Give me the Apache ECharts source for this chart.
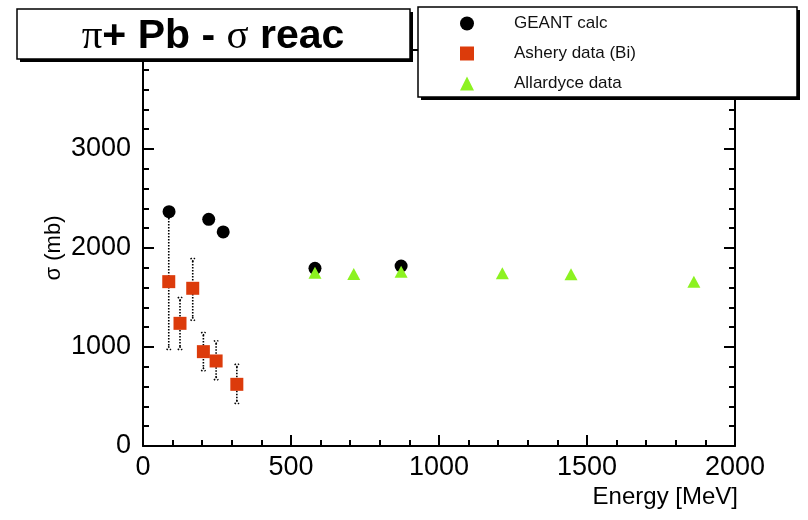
<!DOCTYPE html>
<html>
<head>
<meta charset="utf-8">
<script src="https://cdn.jsdelivr.net/npm/echarts@6/dist/echarts.min.js"></script>
<style>
  html, body { margin: 0; padding: 0; background: #fff; }
  #main { width: 808px; height: 520px; }
</style>
</head>
<body>
<div id="main"></div>
<script>
// GEANT calc
var geantE = [88, 222, 271, 581, 872];
var geantSigma = [2367, 2290, 2162, 1795, 1818];

// Ashery data (Bi) + error range
var asheryE = [87, 125, 168, 204, 247, 317];
var asherySigma = [1660, 1239, 1593, 953, 859, 623];
var asheryLow = [1000, 1000, 1296, 785, 694, 455];
var asheryHigh = [2303, 1475, 1869, 1121, 1037, 801];

// Allardyce data
var allardyceE = [581, 712, 872, 1214, 1446, 1861];
var allardyceSigma = [1750, 1737, 1760, 1744, 1734, 1660];

// axis ranges
var xRange = [0, 2000, 500];
var yRange = [0, 4000, 1000];

var FONT = 'Liberation Sans';
var chart = echarts.init(document.getElementById('main'));

function pairs(xs, ys) {
  return xs.map(function (x, i) { return [x, ys[i]]; });
}

function frameAxis(range, pos, labels) {
  return {
    type: 'value',
    position: pos,
    min: range[0],
    max: range[1],
    interval: range[2],
    axisLine: { show: true, onZero: false, lineStyle: { color: '#000', width: 2 } },
    axisTick: { show: true, inside: true, length: 11, lineStyle: { color: '#000', width: 2 } },
    minorTick: { show: true, splitNumber: 5, length: 6, lineStyle: { color: '#000', width: 2 } },
    splitLine: { show: false },
    axisLabel: {
      show: labels, color: '#000', fontSize: 27, fontFamily: FONT,
      formatter: function (v) { return String(v); }
    }
  };
}

var xBottom = frameAxis(xRange, 'bottom', true);
xBottom.axisLabel.margin = 8;
var xTop = frameAxis(xRange, 'top', false);
var yLeft = frameAxis(yRange, 'left', true);
yLeft.axisLabel.margin = 12;
yLeft.name = 'σ (mb)';
yLeft.nameLocation = 'middle';
yLeft.nameGap = 78;
yLeft.nameMoveOverlap = false;
yLeft.nameTextStyle = { color: '#000', fontSize: 22, fontFamily: FONT };
var yRight = frameAxis(yRange, 'right', false);

var dotted = { stroke: '#000', lineWidth: 1.6, lineDash: [1.5, 1.5], fill: null };

chart.setOption({
  animation: false,
  backgroundColor: '#fff',
  grid: { left: 143, right: 73, top: 50, bottom: 74, outerBoundsMode: 'none' },
  xAxis: [xBottom, xTop],
  yAxis: [yLeft, yRight],
  legend: {
    z: 13,
    orient: 'vertical',
    left: 460,
    top: 15,
    padding: 0,
    itemWidth: 14,
    itemHeight: 14,
    itemGap: 13,
    data: ['GEANT calc', 'Ashery data (Bi)', 'Allardyce data'],
    textStyle: { color: '#111', fontSize: 17, fontFamily: FONT, padding: [0, 0, 0, 35] }
  },
  graphic: [
    // title pave
    { type: 'rect', z: 10, shape: { x: 20, y: 12, width: 393, height: 50 }, style: { fill: '#000' } },
    { type: 'rect', z: 11, shape: { x: 17, y: 9, width: 393, height: 50 }, style: { fill: '#fff', stroke: '#000', lineWidth: 1.5 } },
    {
      type: 'text', z: 12, x: 213, y: 37,
      style: {
        text: '{g|π}+ Pb - {g|σ} reac',
        fill: '#000',
        font: 'bold 41px "Liberation Sans"',
        align: 'center',
        verticalAlign: 'middle',
        rich: { g: { fontFamily: 'Liberation Serif', fontWeight: 'normal', fontSize: 41 } }
      }
    },
    // legend pave
    { type: 'rect', z: 10, shape: { x: 421, y: 10, width: 379, height: 90 }, style: { fill: '#000' } },
    { type: 'rect', z: 11, shape: { x: 418, y: 7, width: 379, height: 90 }, style: { fill: '#fff', stroke: '#000', lineWidth: 1.5 } },
    // x axis title
    {
      type: 'text', z: 12, x: 738, y: 497,
      style: { text: 'Energy [MeV]', fill: '#000', font: '24px "Liberation Sans"', align: 'right', verticalAlign: 'middle' }
    }
  ],
  series: [
    {
      name: 'Ashery errors',
      type: 'custom',
      z: 1,
      data: asheryE.map(function (e, i) { return [e, asheryLow[i], asheryHigh[i]]; }),
      renderItem: function (params, api) {
        var x = api.value(0);
        var lo = api.coord([x, api.value(1)]);
        var hi = api.coord([x, api.value(2)]);
        return {
          type: 'group',
          children: [
            { type: 'line', shape: { x1: hi[0], y1: hi[1], x2: lo[0], y2: lo[1] }, style: dotted },
            { type: 'polyline', shape: { points: [[hi[0] - 2, hi[1] - 3], [hi[0], hi[1]], [hi[0] + 2, hi[1] - 3]] }, style: dotted },
            { type: 'polyline', shape: { points: [[lo[0] - 2, lo[1] + 3], [lo[0], lo[1]], [lo[0] + 2, lo[1] + 3]] }, style: dotted }
          ]
        };
      }
    },
    {
      name: 'GEANT calc',
      type: 'scatter',
      z: 2,
      symbol: 'circle',
      symbolSize: 13,
      itemStyle: { color: '#000', opacity: 1 },
      data: pairs(geantE, geantSigma)
    },
    {
      name: 'Ashery data (Bi)',
      type: 'scatter',
      z: 3,
      symbol: 'rect',
      symbolSize: 13,
      itemStyle: { color: '#dc3b0b', opacity: 1 },
      data: pairs(asheryE, asherySigma)
    },
    {
      name: 'Allardyce data',
      type: 'scatter',
      z: 4,
      symbol: 'triangle',
      symbolSize: [13, 12],
      itemStyle: { color: '#8cf220', opacity: 1 },
      data: pairs(allardyceE, allardyceSigma)
    }
  ]
});
</script>
</body>
</html>
